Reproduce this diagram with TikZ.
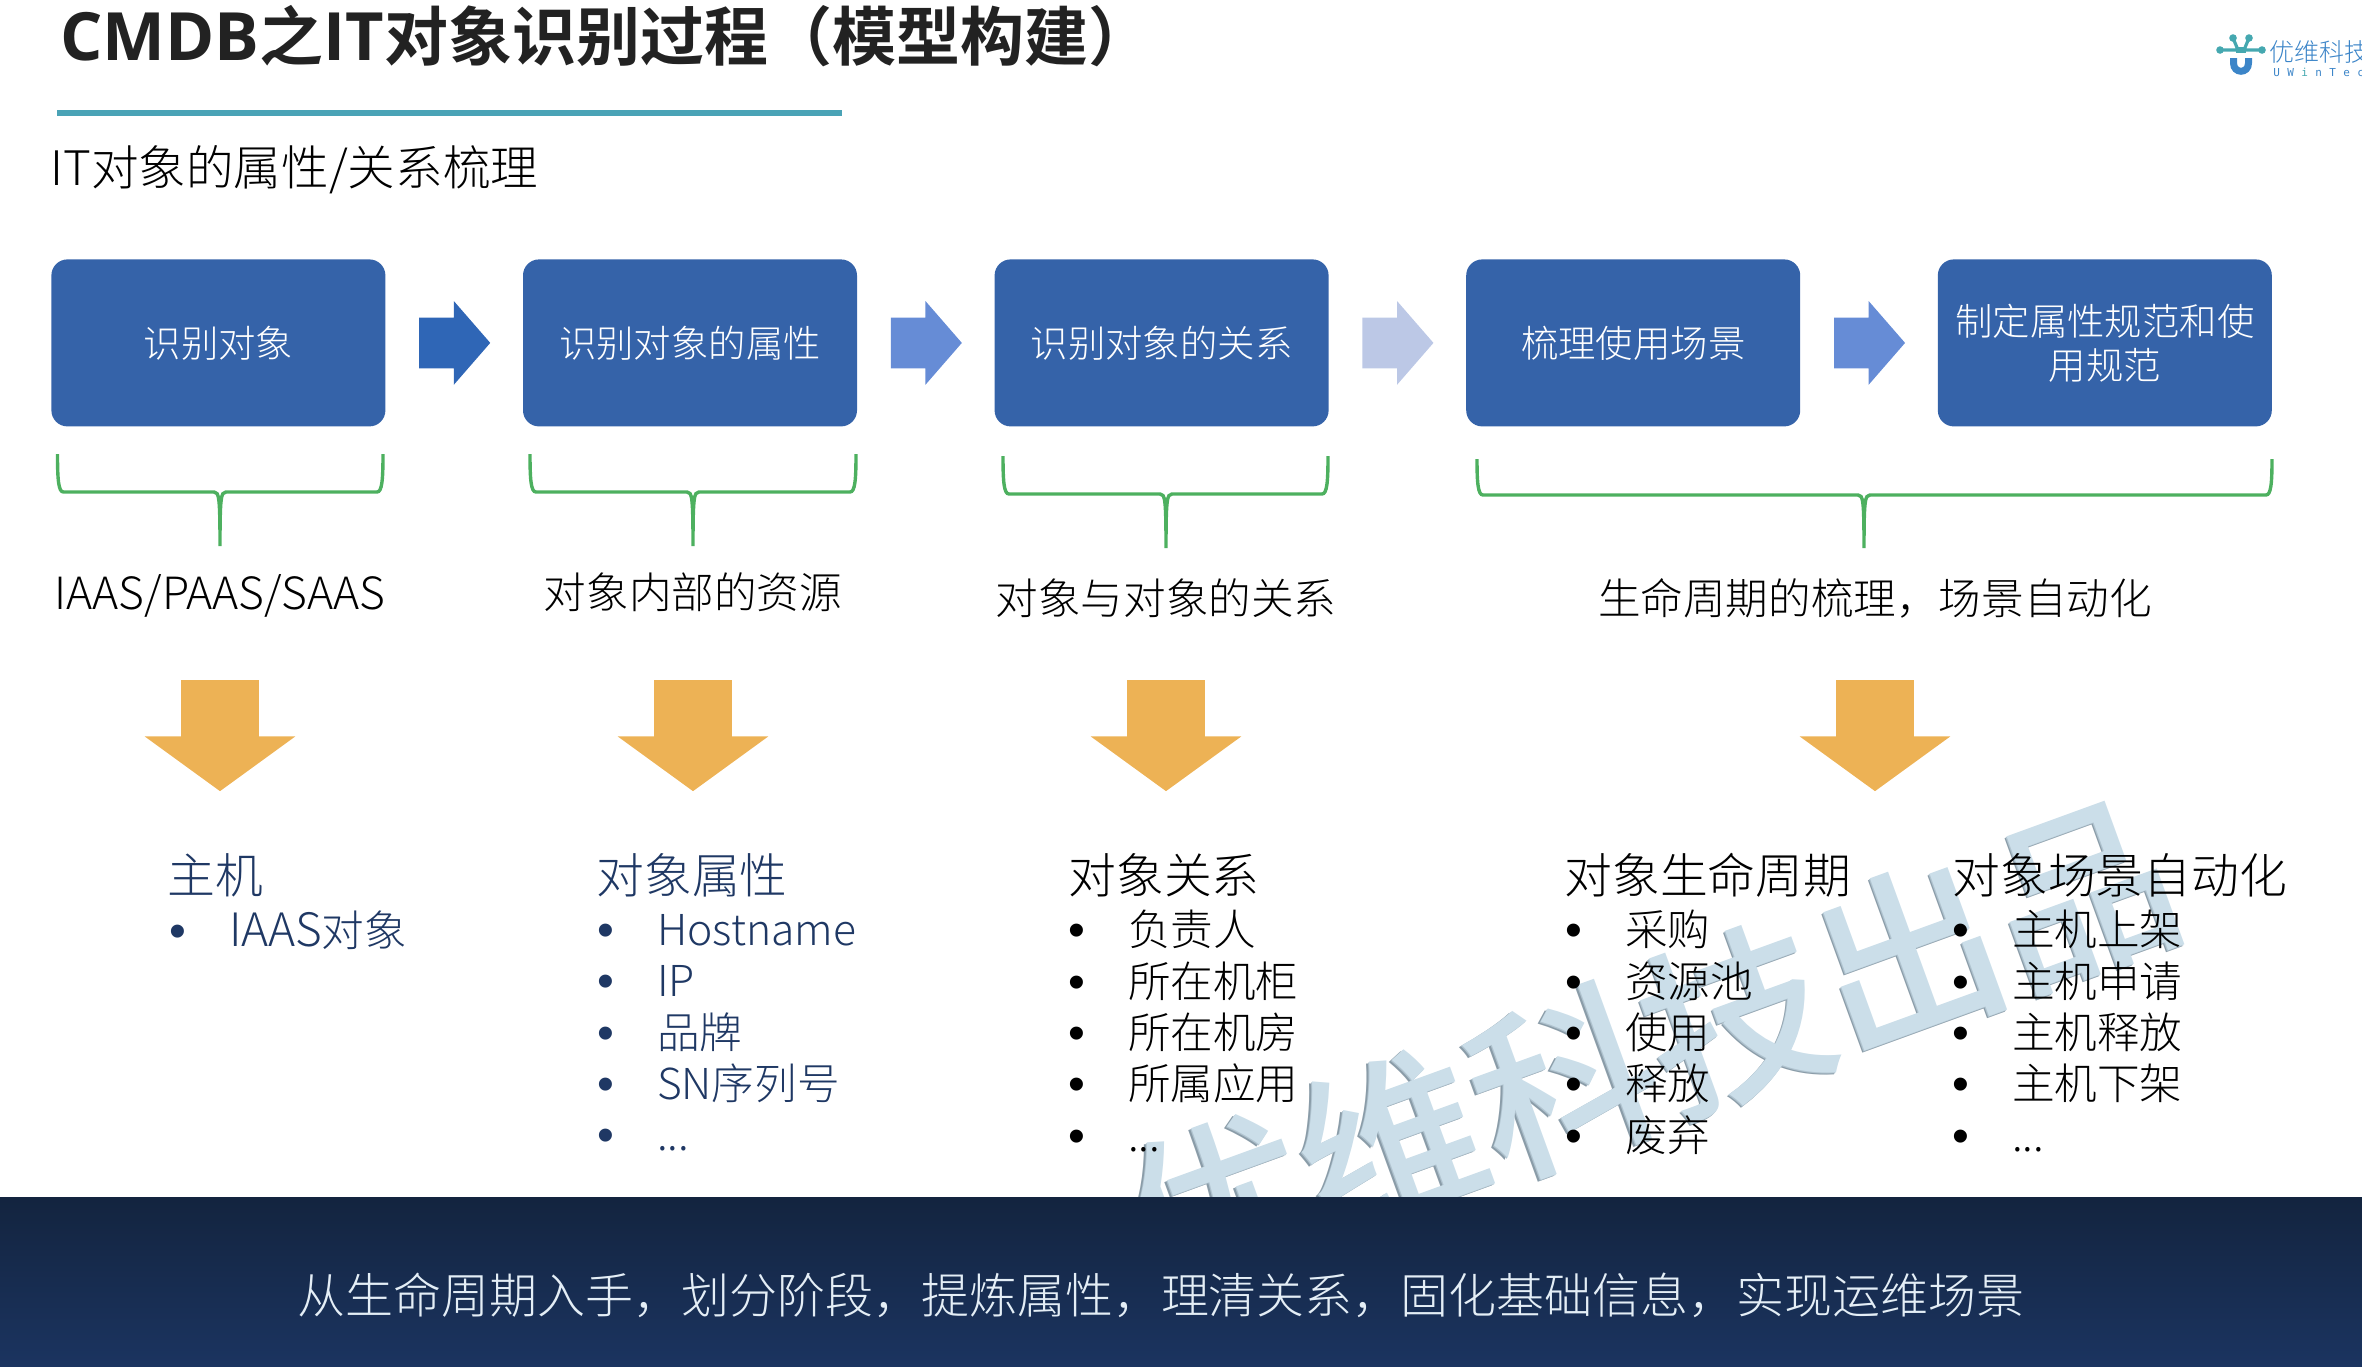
\documentclass[tikz,border=0pt]{standalone}
\usepackage{fontspec}
\setmainfont{Noto Sans CJK SC}[UprightFont=* Light,BoldFont=* Bold]
\newfontfamily\markfont{Noto Sans CJK SC Medium}
\newfontfamily\bulletfont{Liberation Sans}
\newfontfamily\titlelatin{Open Sans}[BoldFont=* Bold]
\newfontfamily\logolatin{DejaVu Sans Mono}
\usepackage{xcolor}
\usepackage{tikz}
\usetikzlibrary{calc,positioning,shapes.arrows}
\definecolor{UWBox}{HTML}{3563A9}
\definecolor{UWFlowA}{HTML}{2F66B6}
\definecolor{UWFlowB}{HTML}{668CD6}
\definecolor{UWFlowC}{HTML}{BCC8E6}
\definecolor{UWGreen}{HTML}{4DB05F}
\definecolor{UWOrange}{HTML}{EDB255}
\definecolor{UWNavy}{HTML}{1F3864}
\definecolor{UWInk}{HTML}{222222}
\definecolor{UWRule}{HTML}{4AA3B6}
\definecolor{UWTeal}{HTML}{45A8B0}
\definecolor{UWLogo}{HTML}{3C85C8}
\definecolor{UWMark}{HTML}{CBDEE9}
\definecolor{UWMarkMid}{HTML}{B0C3CF}
\definecolor{UWMarkEdge}{HTML}{8A9CA8}
\definecolor{UWBandTop}{HTML}{13243F}
\definecolor{UWBandEnd}{HTML}{1B3460}
\definecolor{UWBandText}{HTML}{E4EEF6}
\newcommand{\groupbrace}[6]{\draw[bracket] (#1,#4) .. controls (#1,{#5-12}) and ({#1+1},#5) .. ({#1+6},#5) -- ({#2-6},#5) .. controls ({#2-1},#5) and (#2,{#5+5}) .. (#2,#6) (#2,#6) .. controls (#2,{#5+5}) and ({#2+1},#5) .. ({#2+6},#5) -- ({#3-6},#5) .. controls ({#3-1},#5) and (#3,{#5-12}) .. (#3,#4);}
\newcommand{\bul}[1]{\makebox[29.85pt][l]{\raisebox{-0.5pt}{\fontsize{24}{24}\bulletfont •}}\vphantom{主}#1}
\newcommand{\logoch}[1]{\makebox[7pt][l]{#1}}
\begin{document}
\begin{tikzpicture}[
 x=0.5pt,y=-0.5pt,
 node distance=68.4pt,
 box/.style={fill=UWBox,rounded corners=8pt,align=center,minimum width=167pt,minimum height=83.5pt,inner sep=0pt,font=\fontsize{18.7}{22}\selectfont,text=white},
 flow/.style={single arrow,xshift=-5.25pt,minimum width=41.5pt,minimum height=35.5pt,text height=25pt,text depth=0pt,single arrow head extend=8.25pt,single arrow tip angle=98,inner sep=0pt},
 drop/.style={single arrow,rotate=-90,fill=UWOrange,minimum width=75pt,minimum height=55.5pt,text height=38.5pt,text depth=0pt,single arrow head extend=18.25pt,single arrow tip angle=108,inner sep=0pt},
 bracket/.style={draw=UWGreen,line width=1.7pt},
 grouplabel/.style={font=\fontsize{21.3}{25}\selectfont,inner sep=0pt},
 heading/.style={anchor=base west,font=\fontsize{23.9}{28}\selectfont,inner sep=0pt},
 items/.style={anchor=north west,align=left,font=\fontsize{21.3}{25.65}\selectfont,inner sep=0pt},
 wmark/.style={rotate=20,font=\fontsize{92}{98}\markfont,inner sep=0pt}
]
\useasboundingbox (0,0) rectangle (2362,1366);
\node[wmark,text=UWMarkEdge] (wmedge) at (1647.5,1052) {优维科技出品};
\node[wmark,text=UWMarkMid] (wmmid) at (1649,1051) {优维科技出品};
\node[wmark,text=UWMark] (wm) at (1650,1050) {优维科技出品};
\node[anchor=base west,inner sep=0pt,font=\fontsize{32}{36}\selectfont\bfseries,text=UWInk] (title) at (60,60) {{\fontsize{33.3}{36}\titlelatin\bfseries CMDB}之{\fontsize{33.3}{36}\titlelatin\bfseries IT}对象识别过程（模型构建）};
\fill[UWRule] (57,109.5) rectangle (842,115.5);
\node[anchor=base west,inner sep=0pt,font=\fontsize{23.8}{28}\selectfont] (subtitle) at (50,185) {IT对象的属性/关系梳理};
\draw[UWTeal,line width=1.6pt] (2220,50) -- (2262,50) (2233,38) -- (2238,50) (2249,38) -- (2244,50);
\draw[UWTeal,line width=3pt] (2236,50) -- (2246,50);
\fill[UWTeal] (2220,50) circle (1.9pt) (2262,50) circle (1.9pt) (2233,38) circle (1.9pt) (2249,38) circle (1.9pt);
\draw[UWLogo,line width=3.5pt] (2233.5,58) -- (2233.5,63) .. controls (2233.5,74) and (2248.5,74) .. (2248.5,63) -- (2248.5,58);
\node[anchor=west,inner sep=0pt,font=\fontsize{12.5}{14}\selectfont,text=UWLogo] (logotext) at (2269,51.5) {优维科技};
\node[anchor=west,inner sep=0pt,font=\fontsize{5.5}{6}\logolatin,text=UWLogo] (logoname) at (2273,72) {\logoch{U}\logoch{W}\logoch{\textcolor{UWTeal}{i}}\logoch{n}\logoch{T}\logoch{e}\logoch{c}};
\node[box,anchor=north west] (a) at (51,259) {识别对象};
\node[box,right=of a] (b) {识别对象的属性};
\node[box,right=of b] (c) {识别对象的关系};
\node[box,right=of c] (d) {梳理使用场景};
\node[box,right=of d] (e) {制定属性规范和使\\用规范};
\node[flow,fill=UWFlowA] (ab) at ($(a.east)!.5!(b.west)$) {};
\node[flow,fill=UWFlowB] (bc) at ($(b.east)!.5!(c.west)$) {};
\node[flow,fill=UWFlowC] (cd) at ($(c.east)!.5!(d.west)$) {};
\node[flow,fill=UWFlowB] (de) at ($(d.east)!.5!(e.west)$) {};
\groupbrace{57.5}{220}{383}{454}{492}{546}
\groupbrace{530}{693}{856}{454}{492}{546}
\groupbrace{1003}{1166}{1328}{456}{494}{548}
\groupbrace{1477}{1864}{2272}{459}{495}{548}
\node[grouplabel,font=\fontsize{22.2}{25}\selectfont] (la) at (220,595) {\vphantom{主}IAAS/PAAS/SAAS};
\node[grouplabel] (lb) at (693,592) {对象内部的资源};
\node[grouplabel] (lc) at (1166,598) {对象与对象的关系};
\node[grouplabel] (ld) at (1875,598) {生命周期的梳理，场景自动化};
\node[drop] (da) at (220,721.5) {};
\node[drop] (db) at (693,721.5) {};
\node[drop] (dc) at (1166,721.5) {};
\node[drop] (dd) at (1875,721.5) {};
\node[heading,text=UWNavy] (ha) at (167,893) {主机};
\node[items,text=UWNavy] (ia) at (169,910) {\bul{{\fontsize{23}{25}\selectfont IAAS}对象}};
\node[heading,text=UWNavy] (hb) at (596,893) {对象属性};
\node[items,text=UWNavy] (ib) at (597,910) {\bul{Hostname}\\\bul{IP}\\\bul{品牌}\\\bul{SN序列号}\\\bul{...}};
\node[heading] (hc) at (1068,893) {对象关系};
\node[items] (ic) at (1068,910) {\bul{负责人}\\\bul{所在机柜}\\\bul{所在机房}\\\bul{所属应用}\\\bul{...}};
\node[heading] (hd) at (1564,893) {对象生命周期};
\node[items] (id) at (1565,910) {\bul{采购}\\\bul{资源池}\\\bul{使用}\\\bul{释放}\\\bul{废弃}};
\node[heading] (he) at (1952,893) {对象场景自动化};
\node[items] (ie) at (1952,910) {\bul{主机上架}\\\bul{主机申请}\\\bul{主机释放}\\\bul{主机下架}\\\bul{...}};
\node[rectangle,top color=UWBandTop,bottom color=UWBandEnd,minimum width=1181pt,minimum height=84.5pt,inner sep=0pt] (band) at (1181,1281.5) {};
\node[inner sep=0pt,font=\fontsize{24}{28}\selectfont,text=UWBandText] (slogan) at (1161,1295) {从生命周期入手，划分阶段，提炼属性，理清关系，固化基础信息，实现运维场景};
\end{tikzpicture}
\end{document}
